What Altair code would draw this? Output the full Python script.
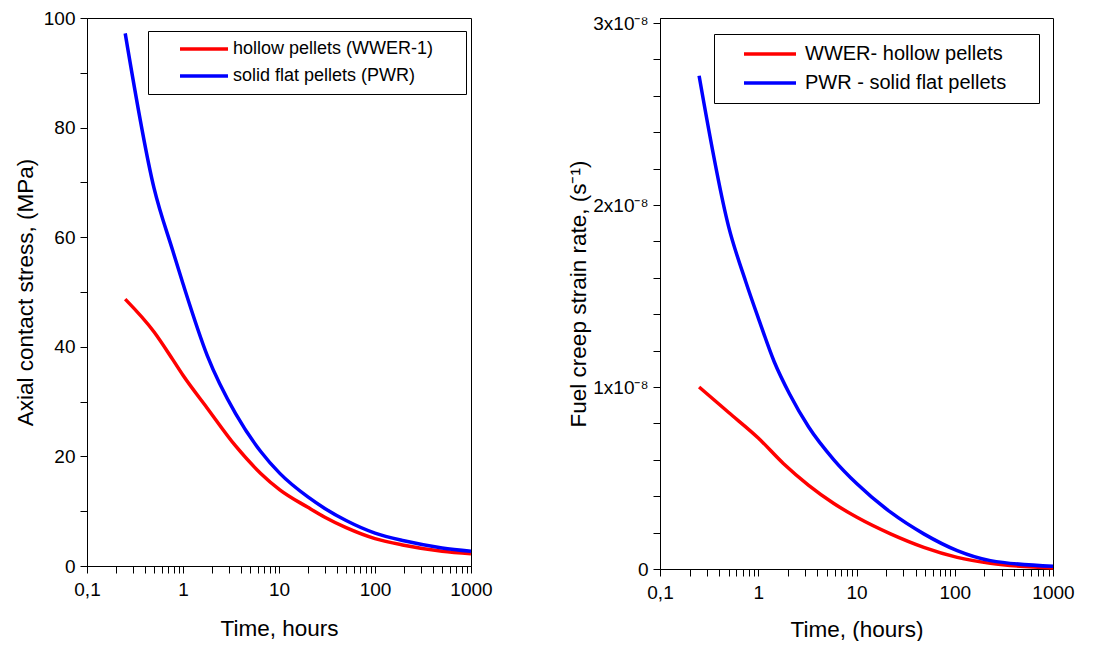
import altair as alt
import pandas as pd

FONT = "Liberation Sans"

# ---------- left panel: axial contact stress (MPa) ----------
left_series = ["hollow pellets (WWER-1)", "solid flat pellets (PWR)"]
t_left_red = [0.25, 0.5, 0.78, 1, 1.79, 3.53, 6.45, 10.2, 20, 30, 50, 100, 200, 500, 1000]
v_left_red = [48.7, 42.7, 37.7, 34.8, 28.8, 21.9, 16.9, 13.9, 10.7, 8.9, 7.0, 5.0, 3.8, 2.7, 2.25]
t_left_blue = [0.25, 0.5, 0.78, 1, 1.79, 3.53, 6.45, 10.2, 20, 30, 50, 100, 200, 500, 1000]
v_left_blue = [97.2, 68.9, 57.6, 51.5, 38.4, 27.8, 20.9, 16.9, 12.6, 10.5, 8.3, 6.0, 4.6, 3.3, 2.7]

# ---------- right panel: fuel creep strain rate (units of 1e-8 1/s) ----------
right_series = ["WWER- hollow pellets", "PWR - solid flat pellets"]
t_right_red = [0.25, 0.5, 1, 1.8, 3.26, 5.88, 10.1, 22.2, 48.4, 106, 231, 1000]
v_right_red = [1.00, 0.86, 0.72, 0.58, 0.46, 0.36, 0.284, 0.193, 0.119, 0.064, 0.031, 0.006]
t_right_blue = [0.25, 0.5, 0.745, 1, 1.45, 2.09, 3.26, 5.88, 10.1, 22.2, 48.4, 106, 231, 1000]
v_right_blue = [2.71, 1.88, 1.58, 1.38, 1.14, 0.96, 0.78, 0.60, 0.468, 0.312, 0.193, 0.101, 0.046, 0.015]
RIGHT_UNIT = 1e-8

colors = ["#FF0000", "#0000FF"]

df_left = pd.concat([
    pd.DataFrame({"t": t_left_red, "v": v_left_red, "series": left_series[0], "o": 0}),
    pd.DataFrame({"t": t_left_blue, "v": v_left_blue, "series": left_series[1], "o": 1}),
])
df_right = pd.concat([
    pd.DataFrame({"t": t_right_red, "v": [x * RIGHT_UNIT for x in v_right_red], "series": right_series[0], "o": 0}),
    pd.DataFrame({"t": t_right_blue, "v": [x * RIGHT_UNIT for x in v_right_blue], "series": right_series[1], "o": 1}),
])

# ---------- tick positions (major + minor, labels only on majors) ----------
x_major = [0.1, 1, 10, 100, 1000]
x_ticks = sorted(x_major + [round(m * 10 ** k, 6) for k in range(-1, 3) for m in range(2, 10)])
y_left_ticks = list(range(0, 101, 10))
y_right_ticks = [i * 2 / 1e9 for i in range(16)]

TICK = 7
X_MAJOR_TEST = "indexof([0.1,1,10,100,1000], datum.value) >= 0"
YL_MAJOR_TEST = "datum.value % 20 == 0"
YR_MAJOR_TEST = "abs(datum.value * 1e8 - round(datum.value * 1e8)) < 1e-6"

X_SCALE = alt.Scale(type="log", domain=[0.1, 1000])
LEFT_Y = alt.Scale(domain=[0, 100])
# the right frame sits ~5 px above the 3x10^-8 tick in the original
RIGHT_Y = alt.Scale(domain=[0, 3e-8 * 551 / 546])


def legend(x, y, size, symlen, pad, soff, loff, trail):
    return alt.Legend(
        title=None,
        orient="none",
        legendX=x,
        legendY=y,
        symbolType="stroke",
        symbolSize=symlen * symlen,
        symbolStrokeWidth=3.5,
        symbolOffset=soff,
        labelOffset=loff,
        clipHeight=size,
        labelFontSize=size,
        labelFont=FONT,
        labelColor="black",
        labelLimit=400,
        labelExpr="datum.label + '" + trail + "\u200b'",
        rowPadding=9,
        padding=pad,
        strokeColor="black",
        fillColor="white",
        cornerRadius=0,
    )


def panel(df, xtitle, ytitle, yscale, yticks, ylabel_expr, series, leg, w, h, xtp, ytp):
    xaxis = alt.Axis(
        title=xtitle, values=x_ticks, orient="bottom", tickSize=TICK,
        labelExpr="datum.value == 0.1 ? '0,1' : ((" + X_MAJOR_TEST + ") ? '' + datum.value : '')",
        labelOverlap=False, labelFlush=False, labelPadding=7, titlePadding=xtp,
    )
    yaxis = alt.Axis(
        title=ytitle, values=yticks, orient="left", tickSize=TICK,
        labelExpr=ylabel_expr, labelOverlap=False, labelFlush=False, labelPadding=5,
        titlePadding=ytp,
    )
    return alt.Chart(df).mark_line(strokeWidth=3.5, interpolate="monotone").encode(
        x=alt.X("t:Q", scale=X_SCALE, axis=xaxis),
        y=alt.Y("v:Q", scale=yscale, axis=yaxis),
        color=alt.Color("series:N", scale=alt.Scale(domain=series, range=colors), legend=leg),
        order="o:Q",
    ).properties(width=w, height=h)


left = panel(
    df_left, "Time, hours", "Axial contact stress, (MPa)", LEFT_Y, y_left_ticks,
    "(" + YL_MAJOR_TEST + ") ? '' + datum.value : ''",
    left_series, legend(61, 13, 18, 48, 9, 21, 3, "\u00a0" * 4 + "\u2009"), 384, 548, 18, 6,
)
right = panel(
    df_right, "Time, (hours)", "Fuel creep strain rate, (s\u207b\u00b9)", RIGHT_Y, y_right_ticks,
    "datum.value == 0 ? '0' : ((" + YR_MAJOR_TEST + ") ? round(datum.value * 1e8) + 'x10\u207b\u2078' : '')",
    right_series, legend(54, 16, 20, 52, 10, 18, 7, "\u00a0" * 4), 393, 551, 16, 2,
)

chart = alt.hconcat(left, right, spacing=74).resolve_scale(color="independent").configure(
    padding={"left": 5, "top": 0, "right": 5, "bottom": 0},
    font=FONT,
).configure_view(
    stroke="black", strokeWidth=1
).configure_axis(
    grid=False,
    domainColor="black",
    domainWidth=1,
    tickColor="black",
    tickWidth=1,
    labelColor="black",
    titleColor="black",
    labelFont=FONT,
    titleFont=FONT,
    labelFontSize=19,
    titleFontSize=22.5,
    titleFontWeight="normal",
)

chart.save("out.html", embed_options={"renderer": "svg", "actions": False})
